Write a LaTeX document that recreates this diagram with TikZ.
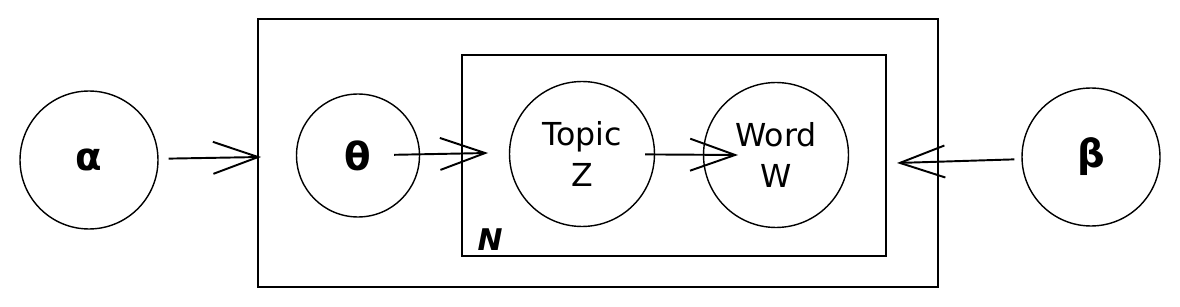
\documentclass[tikz,border=0pt]{standalone}
\usepackage{fontspec}
\setmainfont{DejaVu Sans}
\usepackage{tikz}
\usetikzlibrary{arrows.meta, positioning, calc}
\tikzset{
  var/.style={draw, circle, line width=0.8pt, inner sep=0pt, font=\fontsize{18}{23}\selectfont, align=center},
  greek/.style={var, font=\fontsize{22}{23}\selectfont\bfseries},
  plate/.style={draw, rectangle, line width=1.1pt, inner sep=0pt},
  flow/.style={line width=1.1pt, -{Straight Barb[length=0.9cm, width=0.64cm, line width=1.1pt]}}
}

\begin{document}
\begin{tikzpicture}[x=0.02cm, y=-0.02cm]
        \useasboundingbox (0,0) rectangle (1180,307);

        % Plates
        \node[plate, minimum width=13.6cm, minimum height=5.36cm] (outer) at (598,153) {};
        \node[plate, minimum width=8.48cm, minimum height=4.02cm] (inner) at (674,155.5) {};
        \node[font=\fontsize{17}{18}\selectfont\bfseries\itshape] (nlabel) at (490,240) {N};

        % Variables
        \node[greek, minimum size=2.76cm] (alpha) at (89,160) {α};
        \node[greek, minimum size=2.46cm] (theta) at (358,155.5) {θ};
        \node[var, minimum size=2.9cm] (topic) at (582,154) {Topic\\Z};
        \node[var, minimum size=2.9cm] (word) at (776,155) {Word\\W};
        \node[greek, minimum size=2.76cm] (beta) at (1091,157) {β};

        % Arrow ends
        \coordinate (aEnd) at (261,157);
        \coordinate (tEnd) at (488,153);
        \coordinate (zEnd) at (738,155);
        \coordinate (bEnd) at (897,163);

        % Arrows
        \draw[flow, shorten <=0.2cm] (alpha) -- (aEnd);
        \draw[flow, shorten <=-0.52cm] (theta) -- (tEnd);
        \draw[flow, shorten <=-0.2cm] (topic) -- (zEnd);
        \draw[flow, shorten <=0.14cm] (beta) -- (bEnd);
      \end{tikzpicture}
\end{document}
